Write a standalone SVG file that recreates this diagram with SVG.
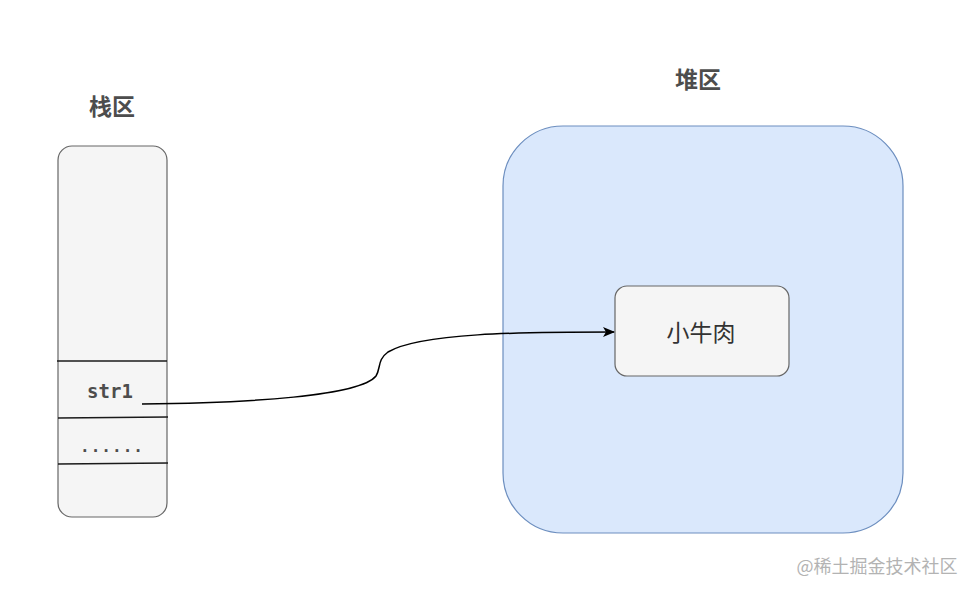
<svg xmlns="http://www.w3.org/2000/svg" width="975" height="594" viewBox="0 0 975 594">
<style>
.title{font-family:"Noto Sans CJK SC","Liberation Sans",sans-serif;font-size:23px;font-weight:bold;fill:#4d4d4d;text-anchor:middle}
.cell{stroke:#1a1a1a;stroke-width:1.5}
</style>
<defs>
<marker id="arr" markerWidth="12" markerHeight="10" refX="11" refY="5" orient="auto" markerUnits="userSpaceOnUse">
<path d="M0,0 L12,5 L0,10 L3,5 Z" fill="#000"/>
</marker>
</defs>
<rect width="975" height="594" fill="#fff"/>
<g id="stack-title"><text class="title" x="112" y="115">栈区</text></g>
<g id="heap-title"><text class="title" x="698" y="88">堆区</text></g>
<g id="stack">
<rect x="58" y="146" width="109" height="371" rx="14" fill="#f5f5f5" stroke="#666" stroke-width="1.2"/>
<line class="cell" x1="57" y1="361" x2="167" y2="361"/>
<line class="cell" x1="58" y1="418" x2="168" y2="417"/>
<line class="cell" x1="58" y1="464" x2="168" y2="463"/>
<text x="110" y="398" font-family="'DejaVu Sans Mono','Liberation Mono',monospace" font-size="19" font-weight="bold" fill="#4d4d4d" text-anchor="middle">str1</text>
<text x="112" y="452" font-family="'DejaVu Sans Mono','Liberation Mono',monospace" font-size="16" font-weight="bold" fill="#4d4d4d" text-anchor="middle" letter-spacing="1">......</text>
</g>
<g id="heap">
<rect x="503" y="126" width="400" height="407" rx="60" fill="#dae8fc" stroke="#6c8ebf" stroke-width="1.2"/>
</g>
<g id="value">
<rect x="615" y="286" width="174" height="90" rx="12" fill="#f5f5f5" stroke="#666" stroke-width="1.2"/>
<text x="701" y="341" font-family="'Noto Sans CJK SC',sans-serif" font-size="23" fill="#333" text-anchor="middle">小牛肉</text>
</g>
<g id="connectors">
<path d="M142 404 C 250 403, 360 396, 376 376 C 381 368, 377 360, 388 352 C 420 333, 520 332, 614 332" fill="none" stroke="#000" stroke-width="1.5" marker-end="url(#arr)"/>
</g>
<text x="877" y="573" font-family="'Noto Sans CJK SC',sans-serif" font-size="18" fill="#b3b3b3" text-anchor="middle">@稀土掘金技术社区</text>
</svg>
